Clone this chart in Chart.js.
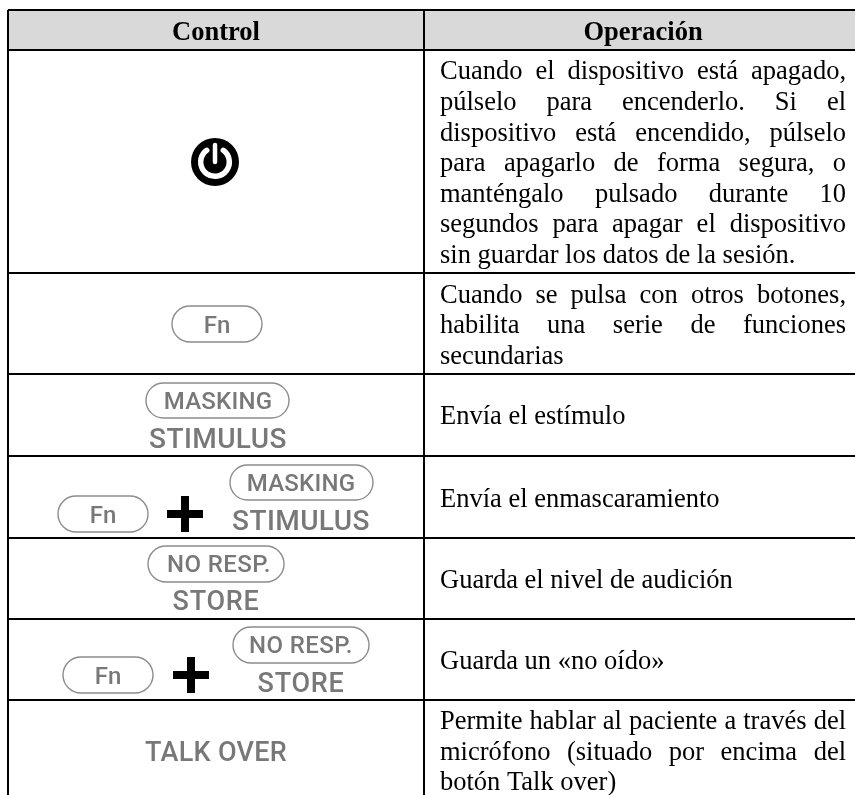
<!DOCTYPE html>
<html>
<head>
<meta charset="utf-8">
<title>Control / Operación</title>
<style>
  html, body { margin: 0; padding: 0; background: #fff; overflow: hidden; }
  #wrap { width: 855px; height: 795px; }
</style>
<script src="https://cdn.jsdelivr.net/npm/chart.js@4"></script>
</head>
<body>
<div id="wrap"><canvas id="chart" width="855" height="795"></canvas></div>
<script>
// table text
const headers = ['Control', 'Operación'];
const operationLines = [
  ['Cuando el dispositivo está apagado,', 'púlselo para encenderlo. Si el', 'dispositivo está encendido, púlselo',
   'para apagarlo de forma segura, o', 'manténgalo pulsado durante 10', 'segundos para apagar el dispositivo',
   'sin guardar los datos de la sesión.'],
  ['Cuando se pulsa con otros botones,', 'habilita una serie de funciones', 'secundarias'],
  ['Envía el estímulo'],
  ['Envía el enmascaramiento'],
  ['Guarda el nivel de audición'],
  ['Guarda un «no oído»'],
  ['Permite hablar al paciente a través del', 'micrófono (situado por encima del', 'botón Talk over)']
];
// lines that run to the right margin, the last one of a paragraph does not
const justifiedLines = [6, 2, 0, 0, 0, 0, 2];

// table grid, in axis units
const columnEdges = [8, 424];
const rowEdges = [10, 50, 273, 374, 456, 538, 619, 700];
const axisEnd = [855, 795];
const headerBand = [{ x: 8, y: 10 }, { x: 855, y: 10 }];

// text baselines
const headerBaseline = 40;
const lineBaselines = [
  [79, 110, 141, 171, 202, 232, 263],
  [303, 333, 364],
  [424],
  [507],
  [588],
  [669],
  [729, 760, 790]
];
const headerCenters = [216, 643];
const textLeft = 440;
const textRight = 846;

const BODY_FONT = '26.5px "Liberation Serif"';
const HEAD_FONT = 'bold 26.5px "Liberation Serif"';
const KEY_GREY = '#787878';

function keyText(ctx, text, cx, base, size, spacing) {
  ctx.font = '500 ' + size + 'px Roboto';
  ctx.letterSpacing = spacing + 'px';
  ctx.fillStyle = KEY_GREY;
  ctx.textAlign = 'center';
  ctx.fillText(text, cx, base);
  ctx.letterSpacing = '0px';
}

function pill(ctx, x0, y0, x1, y1) {
  const r = (y1 - y0) / 2;
  ctx.beginPath();
  ctx.moveTo(x0 + r, y0);
  ctx.lineTo(x1 - r, y0);
  ctx.arc(x1 - r, y0 + r, r, -Math.PI / 2, Math.PI / 2);
  ctx.lineTo(x0 + r, y1);
  ctx.arc(x0 + r, y0 + r, r, Math.PI / 2, -Math.PI / 2);
  ctx.closePath();
  ctx.strokeStyle = '#8c8c8c';
  ctx.lineWidth = 1.4;
  ctx.stroke();
}

function plus(ctx, cx, cy) {
  ctx.fillStyle = '#000';
  ctx.fillRect(cx - 18, cy - 4, 36, 8);
  ctx.fillRect(cx - 4, cy - 18, 8, 36);
}

function fnKey(ctx, x0, y0) {
  pill(ctx, x0, y0, x0 + 90, y0 + 36);
  keyText(ctx, 'Fn', x0 + 45, y0 + 27, 24, 0);
}

function powerIcon(ctx, cx, cy) {
  ctx.fillStyle = '#000';
  ctx.beginPath();
  ctx.arc(cx, cy, 24, 0, Math.PI * 2);
  ctx.fill();
  // white ring, open at the top
  ctx.strokeStyle = '#fff';
  ctx.lineWidth = 5.5;
  ctx.lineCap = 'round';
  ctx.beginPath();
  ctx.arc(cx, cy, 14.3, -Math.PI / 2 + 0.62, -Math.PI / 2 - 0.62);
  ctx.stroke();
  // white stem in the gap
  ctx.lineWidth = 4.5;
  ctx.beginPath();
  ctx.moveTo(cx, cy - 17);
  ctx.lineTo(cx, cy);
  ctx.stroke();
  ctx.lineCap = 'butt';
}

function justifyLine(ctx, text, base) {
  const words = text.split(' ');
  const used = words.reduce((s, w) => s + ctx.measureText(w).width, 0);
  const gap = (textRight - textLeft - used) / (words.length - 1);
  let x = textLeft;
  words.forEach(w => {
    ctx.fillText(w, x, base);
    x += ctx.measureText(w).width + gap;
  });
}

const tablePlugin = {
  id: 'tableCells',
  afterDraw(chart) {
    const ctx = chart.ctx;
    ctx.save();
    ctx.textBaseline = 'alphabetic';

    // header
    ctx.fillStyle = '#000';
    ctx.font = HEAD_FONT;
    ctx.textAlign = 'center';
    headers.forEach((h, i) => ctx.fillText(h, headerCenters[i], headerBaseline));

    // right column
    ctx.font = BODY_FONT;
    ctx.textAlign = 'left';
    operationLines.forEach((lines, r) => {
      lines.forEach((line, l) => {
        if (l < justifiedLines[r]) justifyLine(ctx, line, lineBaselines[r][l]);
        else ctx.fillText(line, textLeft, lineBaselines[r][l]);
      });
    });

    // left column
    powerIcon(ctx, 215, 162);

    fnKey(ctx, 172, 306);

    pill(ctx, 146, 383, 289, 418);
    keyText(ctx, 'MASKING', 218, 409, 24, 0.2);
    keyText(ctx, 'STIMULUS', 218, 448, 28, 0.4);

    fnKey(ctx, 58, 496);
    plus(ctx, 185, 514);
    pill(ctx, 230, 465, 373, 500);
    keyText(ctx, 'MASKING', 301, 491, 24, 0.2);
    keyText(ctx, 'STIMULUS', 301, 530, 28, 0.4);

    pill(ctx, 148, 546, 284, 582);
    keyText(ctx, 'NO RESP.', 219, 572, 24, 0.4);
    keyText(ctx, 'STORE', 216, 610, 27, 0.7);

    fnKey(ctx, 63, 657);
    plus(ctx, 191, 675);
    pill(ctx, 233, 627, 369, 663);
    keyText(ctx, 'NO RESP.', 301, 653, 24, 0.4);
    keyText(ctx, 'STORE', 301, 692, 27, 0.7);

    keyText(ctx, 'TALK OVER', 216, 761, 27, 0.3);
    ctx.restore();
  }
};

new Chart(document.getElementById('chart'), {
  type: 'scatter',
  data: {
    datasets: [{
      // grey band of the header row
      data: headerBand,
      showLine: true,
      borderWidth: 0,
      pointRadius: 0,
      backgroundColor: '#d9d9d9',
      fill: { value: rowEdges[1] }
    }]
  },
  options: {
    responsive: false,
    animation: false,
    events: [],
    layout: { padding: { left: columnEdges[0], top: rowEdges[0], right: 0, bottom: 0 } },
    plugins: { legend: { display: false }, tooltip: { enabled: false } },
    scales: {
      x: {
        type: 'linear',
        min: columnEdges[0],
        max: axisEnd[0],
        border: { display: false },
        ticks: { display: false, autoSkip: false },
        grid: { color: '#000', lineWidth: 2, drawTicks: false, z: 1 },
        afterBuildTicks(scale) { scale.ticks = columnEdges.map(v => ({ value: v })); }
      },
      y: {
        type: 'linear',
        reverse: true,
        min: rowEdges[0],
        max: axisEnd[1],
        border: { display: false },
        ticks: { display: false, autoSkip: false },
        grid: { color: '#000', lineWidth: 2, drawTicks: false, z: 1 },
        afterBuildTicks(scale) { scale.ticks = rowEdges.map(v => ({ value: v })); }
      }
    }
  },
  plugins: [tablePlugin]
});
</script>
</body>
</html>
